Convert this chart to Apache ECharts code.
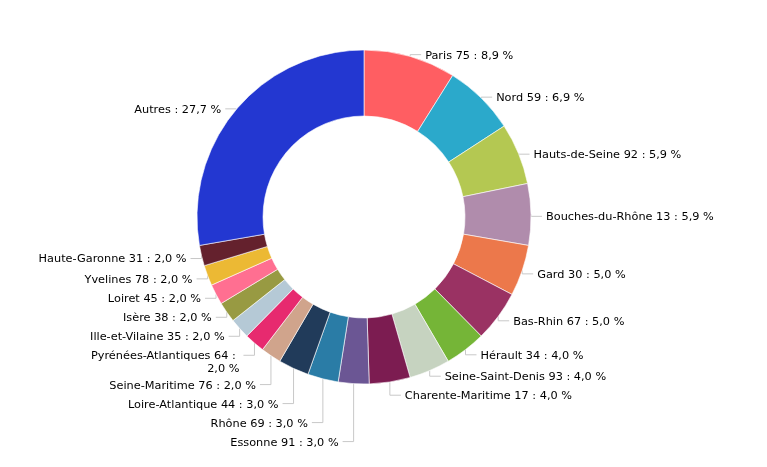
<!DOCTYPE html>
<html>
<head>
<meta charset="utf-8">
<script src="https://cdn.jsdelivr.net/npm/echarts@6/dist/echarts.min.js"></script>
<style>html,body{margin:0;padding:0;background:#fff}#c{width:767px;height:467px}</style>
</head>
<body>
<div id="c"></div>
<script>
const categories = ["Paris 75","Nord 59","Hauts-de-Seine 92","Bouches-du-Rhône 13","Gard 30","Bas-Rhin 67","Hérault 34","Seine-Saint-Denis 93","Charente-Maritime 17","Essonne 91","Rhône 69","Loire-Atlantique 44","Seine-Maritime 76","Pyrénées-Atlantiques 64","Ille-et-Vilaine 35","Isère 38","Loiret 45","Yvelines 78","Haute-Garonne 31","Autres"];
const counts = [9,7,6,6,5,5,4,4,4,3,3,3,2,2,2,2,2,2,2,28];
const colors = ["#ff5e62","#2ba9cb","#b4c852","#b08cac","#ec784b","#9a3263","#75b537","#c6d3c0","#7c1c51","#6b5694","#2a7ca6","#213b5a","#d0a48c","#e72a6f","#b5c9d6","#989a42","#ff6f91","#ecb934","#64212d","#2337d1"];

const total = counts.reduce((a,b)=>a+b,0);
const CX = 364, CY = 217, R0 = 101, R1 = 167;
const LINE_H = 13, PAD = 3;
const chart = echarts.init(document.getElementById('c'));

// pass 1: record library-computed anchor points on the outer edge
const rec = [];
function recordLayout(p){
  rec[p.dataIndex] = {p0: p.labelLinePoints[0].slice(), h: p.labelRect.height, side: p.align === 'right' ? -1 : 1};
  return {};
}

function baseOption(layoutFn){
  return {
    animation:false,
    series:[{
      type:'pie',
      center:[CX,CY],
      radius:[R0,R1],
      startAngle:90,
      clockwise:true,
      avoidLabelOverlap:false,
      itemStyle:{borderColor:'#fff',borderWidth:0.6},
      label:{
        show:true,position:'outside',
        fontFamily:'DejaVu Sans',fontSize:11.3,color:'#000',
        lineHeight:LINE_H,padding:[PAD,0],
        formatter:p=>p.name+' : '+(p.value/total*100).toFixed(1).replace('.',',')+' %'
      },
      labelLine:{show:true,length:4,length2:10,lineStyle:{color:'#c8c8c8',width:1}},
      labelLayout:layoutFn,
      emphasis:{disabled:true},
      data:categories.map((n,i)=>{
        const d = {name:n,value:counts[i],itemStyle:{color:colors[i]}};
        if (n.length > 20) d.label = {width:160, overflow:'break'};
        return d;
      })
    }]
  };
}
chart.setOption(baseOption(recordLayout));

// compute push-down label placement per side
const place = [];
[1,-1].forEach(side=>{
  const items = rec.map((r,i)=>({i, r})).filter(o=>o && o.r && o.r.side===side);
  items.forEach(o=>{
    const dy = (o.r.p0[1]-CY)/R1;
    o.lineY = CY + dy*(R1+4) + 2;
    o.n = Math.max(1, Math.round((o.r.h - 2*PAD)/LINE_H));
    o.effH = (LINE_H+2*PAD) + (o.n-1)*10.3;
  });
  items.sort((a,b)=>a.lineY-b.lineY);
  let prevBottom = -Infinity;
  items.forEach(o=>{
    const half = (LINE_H+2*PAD)/2;
    if (o.lineY - half < prevBottom) o.lineY = prevBottom + half;
    prevBottom = o.lineY - half + o.effH;
    o.center = o.lineY + 1 + (o.n-1)*LINE_H/2;
    place[o.i] = o;
  });
});

function finalLayout(p){
  const o = place[p.dataIndex];
  if (!o) return {};
  const r = o.r, s = r.side;
  const x0 = r.p0[0], y0 = r.p0[1];
  return {
    x: x0 + s*15,
    y: o.center,
    align: s>0 ? 'left' : 'right',
    verticalAlign: 'middle',
    labelLinePoints: [[x0,y0],[x0,o.lineY],[x0+s*11,o.lineY]]
  };
}
chart.setOption(baseOption(finalLayout));
</script>
</body>
</html>
